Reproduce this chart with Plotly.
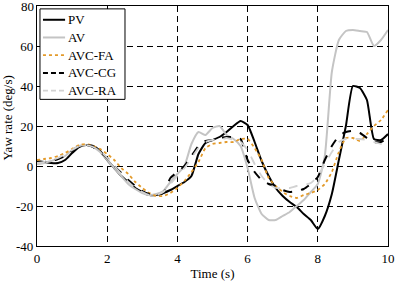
import plotly.graph_objects as go

time_s = [round(i * 0.2, 1) for i in range(51)]

pv = [2.5, 2, 1.5, 1.5, 3, 6.5, 9.5, 10.5, 10, 7.5,
      3, -1, -5, -8, -11, -13, -14.5, -14.5, -13.5, -12,
      -10, -8, -5, 6, 11.5, 13, 14.5, 17, 20, 22.5,
      20.5, 12, 2.5, -5, -11, -15, -18, -20.5, -24, -27,
      -31.5, -25, -14, 3, 20, 40, 39, 33, 13.5, 13, 16]

av = [1, 1.5, 2.5, 3.5, 5, 8, 10, 10.5, 9.5, 7,
      3, -1, -5, -9, -11.5, -13.5, -14.5, -14, -12.5, -8,
      -4, 0, 11, 17, 15.5, 19, 20, 15.5, 13.5, 10,
      -1, -16, -24, -27, -27, -25, -23, -20, -17, -13,
      -9, 5, 47, 63, 67.5, 68, 67.5, 67, 60, 63, 68]

avc_fa = [3, 3.5, 4, 5, 6.5, 8.5, 10.5, 11, 10, 8.5,
          6, 3, -1, -4, -8, -11, -13.5, -15, -15, -13.5,
          -11, -7.5, -3, 2, 9, 11, 11.5, 12, 12, 13.5,
          13.5, 9, 3, -6, -10, -13, -15, -16, -14.5, -13.5,
          -12, -9, -3, 7, 14, 14, 12.5, 16, 20, 23, 28]

avc_cg = [2, 2, 2.5, 3.5, 5, 7.5, 10, 10.5, 9.5, 7,
          4, 0, -3.5, -7, -10, -12.5, -14, -14.5, -13.5, -6,
          -3, 0, 5, 10, 12.5, 13, 14, 14.5, 14.5, 13.5,
          3, -3, -7, -9, -10, -12, -13, -12.5, -11.5, -9,
          -5.5, 3, 10, 15, 17, 17.5, 16.5, 14, 12, 12, 14]

avc_ra = [1.5, 2, 3, 4, 6, 8, 10, 10.5, 9.5, 7.5,
          4, 0, -4, -8, -11, -13, -14.5, -14.5, -13, -9,
          -5, -1, 4, 9, 12, 13, 13, 14, 13, 12,
          8, 1, -5, -9, -11, -11, -11, -10, -9.5, -8.5,
          -5, 1, 7, 12, 13.5, 13.5, 13.5, 13, 12, 11, 10]

x_ticks = [0, 2, 4, 6, 8, 10]
y_ticks = [-40, -20, 0, 20, 40, 60, 80]
y_tick_text = ["-40", "-20", "0", "20", "40", "60", "80"]
series_names = ["PV", "AV", "AVC-FA", "AVC-CG", "AVC-RA"]

styles = [
    dict(color="black", width=2, dash="solid"),
    dict(color="#c4c4c4", width=2, dash="solid"),
    dict(color="#e39a2a", width=1.8, dash="dot"),
    dict(color="black", width=2, dash="dash"),
    dict(color="#d2d2d2", width=1.8, dash="dash"),
]

fig = go.Figure()
for name, vals, line in zip(series_names, [pv, av, avc_fa, avc_cg, avc_ra], styles):
    fig.add_trace(go.Scatter(x=time_s, y=vals, mode="lines", name=name,
                             showlegend=False,
                             line=dict(shape="spline", smoothing=0.5, **line)))

FAM = "Liberation Serif, Times New Roman, serif"
font = dict(family=FAM, size=13, color="black")

# custom legend box (layout only)
shapes = [dict(type="rect", xref="paper", yref="paper", x0=0.0085, x1=0.2507,
               y0=0.611, y1=0.988, line=dict(color="black", width=1),
               fillcolor="white", layer="above")]
annotations = []
leg_top_px = 19
leg_step_px = 18
for i, (name, line) in enumerate(zip(series_names, styles)):
    yp = (249 - (leg_top_px + i * leg_step_px)) / 244
    shapes.append(dict(type="line", xref="paper", yref="paper", x0=0.017, x1=0.080,
                       y0=yp, y1=yp, layer="above",
                       line=dict(color=line["color"], width=line["width"],
                                 dash=line["dash"] if line["dash"] != "dash" else "5px,3px")))
    annotations.append(dict(text=name, xref="paper", yref="paper", x=0.084, y=yp,
                            xanchor="left", yanchor="middle", showarrow=False,
                            font=font))

annotations.append(dict(text="Yaw rate (deg/s)", xref="paper", yref="paper",
                        x=-0.083, y=0.535, xanchor="center", yanchor="middle",
                        textangle=-90, showarrow=False, font=font))

# top tick label (hidden by plotly because it touches the page edge)
annotations.append(dict(text=y_tick_text[-1], xref="paper", yref="y", x=0, y=y_ticks[-1],
                        xanchor="right", yanchor="middle", xshift=-1, showarrow=False,
                        font=font))

fig.update_layout(
    width=410, height=284,
    margin=dict(l=37, r=22, t=5, b=35),
    paper_bgcolor="white", plot_bgcolor="white",
    font=font,
    showlegend=False,
    shapes=shapes,
    annotations=annotations,
    xaxis=dict(range=[0, 10], tickvals=x_ticks, showgrid=True,
               gridcolor="black", griddash="6px,4px", gridwidth=1,
               showline=True, mirror=True, linecolor="black", linewidth=1.2,
               zeroline=False, ticks="", ticklen=0,
               title=dict(text="Time (s)", standoff=4, font=font)),
    yaxis=dict(range=[-40, 80], tickvals=y_ticks, ticktext=y_tick_text,
               showgrid=True, gridcolor="black", griddash="6px,4px", gridwidth=1,
               showline=True, mirror=True, linecolor="black", linewidth=1.2,
               zeroline=False, ticks="", ticklen=0),
)

fig.write_html("out.html")
